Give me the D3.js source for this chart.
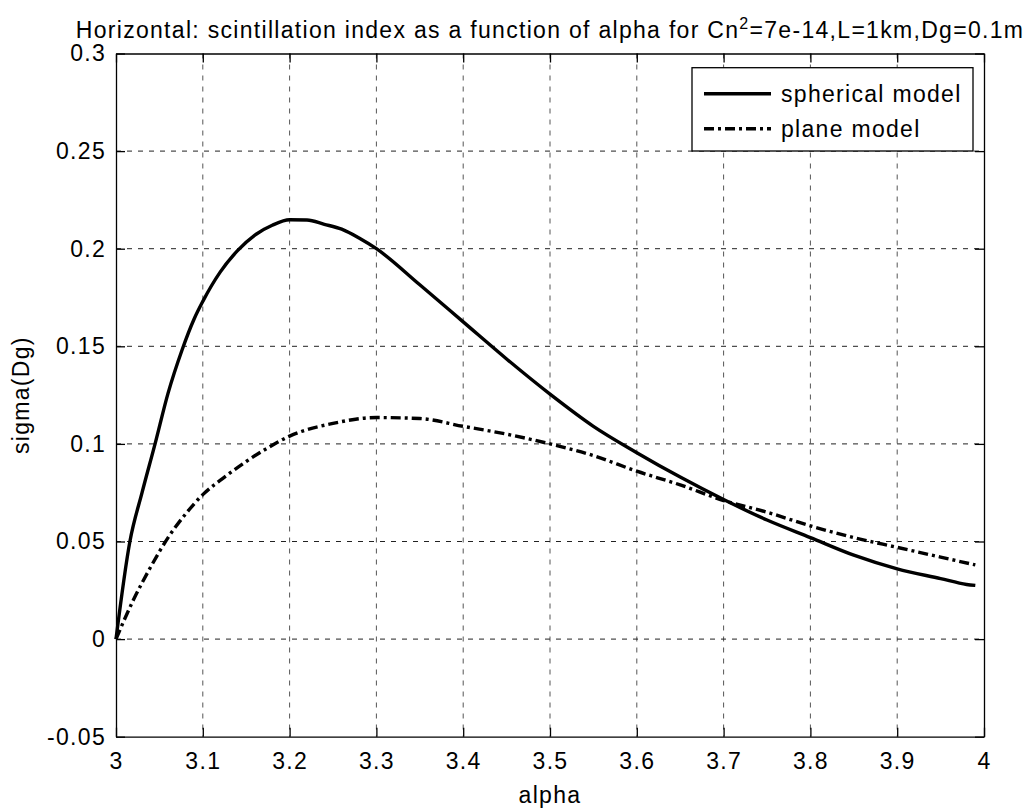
<!DOCTYPE html>
<html>
<head>
<meta charset="utf-8">
<script src="https://cdn.jsdelivr.net/npm/d3@7"></script>
<style>
  html, body { margin: 0; padding: 0; background: #fff; }
  svg { display: block; font-family: "Liberation Sans", Arial, sans-serif; }
</style>
</head>
<body>
<svg id="chart" width="1029" height="808"></svg>
<script>
// ---- data ----
const alphaSph = [3.00, 3.016, 3.03, 3.045, 3.06, 3.076, 3.09, 3.10, 3.12, 3.14, 3.16, 3.18, 3.20, 3.22, 3.24, 3.26, 3.28, 3.30, 3.35, 3.40, 3.45, 3.50, 3.55, 3.60, 3.65, 3.70, 3.75, 3.80, 3.85, 3.90, 3.95, 3.98, 3.99];
const sphericalVals = [0.000, 0.050, 0.075, 0.100, 0.126, 0.148, 0.164, 0.173, 0.188, 0.199, 0.207, 0.212, 0.2148, 0.2147, 0.2125, 0.210, 0.2055, 0.200, 0.1815, 0.1625, 0.1435, 0.1255, 0.109, 0.0955, 0.083, 0.0715, 0.061, 0.052, 0.043, 0.036, 0.031, 0.028, 0.0275];
const alphaPl = [3.00, 3.02, 3.04, 3.06, 3.08, 3.10, 3.125, 3.15, 3.175, 3.20, 3.25, 3.30, 3.35, 3.40, 3.45, 3.50, 3.55, 3.60, 3.65, 3.70, 3.75, 3.80, 3.85, 3.90, 3.95, 3.99];
const planeVals = [0.000, 0.020, 0.037, 0.052, 0.064, 0.074, 0.083, 0.091, 0.098, 0.104, 0.1105, 0.1135, 0.113, 0.109, 0.105, 0.100, 0.094, 0.086, 0.079, 0.071, 0.065, 0.058, 0.052, 0.047, 0.042, 0.038];
const xTicks = [3, 3.1, 3.2, 3.3, 3.4, 3.5, 3.6, 3.7, 3.8, 3.9, 4];
const yTicks = [-0.05, 0, 0.05, 0.1, 0.15, 0.2, 0.25, 0.3];
const seriesNames = ["spherical model", "plane model"];
const titleMain = "Horizontal: scintillation index as a function of alpha for Cn";
const titleSup = "2";
const titleTail = "=7e-14,L=1km,Dg=0.1m";
const xLabel = "alpha";
const yLabel = "sigma(Dg)";

// ---- layout ----
const L = 116, R = 984, T = 53.5, B = 736.7;
const FS = 23, LS = "1.3px";
const svg = d3.select("#chart");
const x = d3.scaleLinear().domain([3, 4]).range([L, R]);
const y = d3.scaleLinear().domain([-0.05, 0.3]).range([B, T]);
const fmt = d => String(+d.toFixed(2));

// grid
const grid = svg.append("g");
grid.selectAll("line.vx").data(xTicks.slice(1, -1)).join("line")
  .attr("x1", d => x(d)).attr("x2", d => x(d)).attr("y1", T).attr("y2", B)
  .attr("stroke", "#555").attr("stroke-width", 1).attr("stroke-dasharray", "5,6");
grid.selectAll("line.hy").data(yTicks.slice(1, -1)).join("line")
  .attr("x1", L).attr("x2", R).attr("y1", d => y(d)).attr("y2", d => y(d))
  .attr("stroke", "#222").attr("stroke-width", 1).attr("stroke-dasharray", "5,6");

// axes with inward ticks
const tl = 9;
const axB = svg.append("g").attr("transform", `translate(0,${B})`)
  .call(d3.axisBottom(x).tickValues(xTicks).tickFormat(fmt).tickSizeInner(-tl).tickSizeOuter(0).tickPadding(16));
const axT = svg.append("g").attr("transform", `translate(0,${T})`)
  .call(d3.axisTop(x).tickValues(xTicks).tickFormat("").tickSizeInner(-tl).tickSizeOuter(0));
const axL = svg.append("g").attr("transform", `translate(${L},0)`)
  .call(d3.axisLeft(y).tickValues(yTicks).tickFormat(fmt).tickSizeInner(-tl).tickSizeOuter(0).tickPadding(10));
const axR = svg.append("g").attr("transform", `translate(${R},0)`)
  .call(d3.axisRight(y).tickValues(yTicks).tickFormat("").tickSizeInner(-tl).tickSizeOuter(0));
[axB, axT, axL, axR].forEach(a => {
  a.select(".domain").attr("stroke", "#000").attr("stroke-width", 1.3);
  a.selectAll(".tick line").attr("stroke", "#000").attr("stroke-width", 1.3);
  a.selectAll("text").attr("font-size", FS).attr("letter-spacing", LS)
    .attr("font-family", "Liberation Sans, Arial, sans-serif").attr("fill", "#000");
});
axB.selectAll(".tick text").attr("dy", "0.71em");

// lines
const lineGen = d3.line().x(d => x(d[0])).y(d => y(d[1])).curve(d3.curveMonotoneX);
const sphData = alphaSph.map((a, i) => [a, sphericalVals[i]]);
const plData = alphaPl.map((a, i) => [a, planeVals[i]]);
svg.append("path").datum(sphData).attr("d", lineGen)
  .attr("fill", "none").attr("stroke", "#000").attr("stroke-width", 3.4).attr("stroke-linejoin", "round");
svg.append("path").datum(plData).attr("d", lineGen)
  .attr("fill", "none").attr("stroke", "#000").attr("stroke-width", 3.4).attr("stroke-dasharray", "10,4,3,4");

// legend
const lg = svg.append("g");
const lx0 = 692, lx1 = 973, ly0 = 67.7, ly1 = 151;
lg.append("rect").attr("x", lx0).attr("y", ly0).attr("width", lx1 - lx0).attr("height", ly1 - ly0)
  .attr("fill", "#fff").attr("stroke", "#000").attr("stroke-width", 1.3);
const rows = [ly0 + 26, ly0 + 61];
const dashes = [null, "10,4,3,4"];
seriesNames.forEach((n, i) => {
  lg.append("line").attr("x1", lx0 + 12).attr("x2", 771).attr("y1", rows[i]).attr("y2", rows[i])
    .attr("stroke", "#000").attr("stroke-width", 3.4).attr("stroke-dasharray", dashes[i]);
  lg.append("text").attr("x", 781).attr("y", rows[i]).attr("dy", "0.35em")
    .attr("font-size", FS).attr("letter-spacing", LS).text(n);
});

// title
const tt = svg.append("text").attr("x", (L + R) / 2).attr("y", 38).attr("text-anchor", "middle")
  .attr("font-size", FS).attr("letter-spacing", LS);
tt.append("tspan").text(titleMain);
tt.append("tspan").attr("dy", -9).attr("font-size", 16).text(titleSup);
tt.append("tspan").attr("dy", 9).text(titleTail);

// axis labels
svg.append("text").attr("x", (L + R) / 2).attr("y", 803).attr("text-anchor", "middle")
  .attr("font-size", FS).attr("letter-spacing", LS).text(xLabel);
svg.append("text").attr("transform", `translate(29,${(T + B) / 2}) rotate(-90)`).attr("text-anchor", "middle")
  .attr("font-size", FS).attr("letter-spacing", LS).text(yLabel);
</script>
</body>
</html>
